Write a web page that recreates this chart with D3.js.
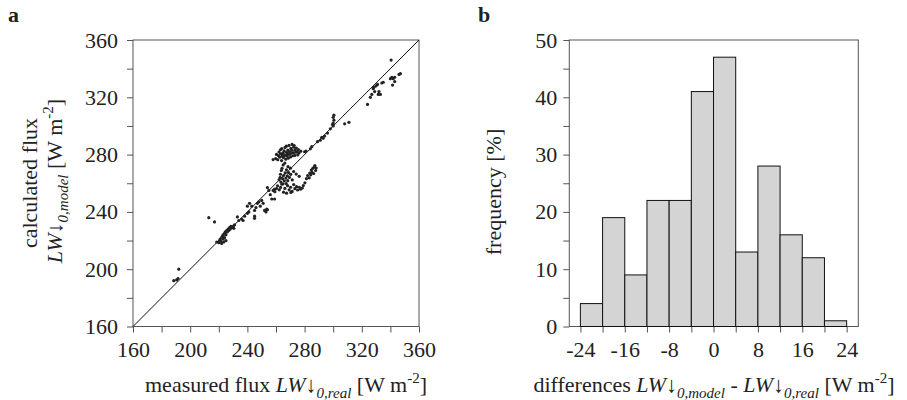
<!DOCTYPE html>
<html><head><meta charset="utf-8">
<script src="https://cdn.jsdelivr.net/npm/d3@7"></script>
<style>body{margin:0;background:#fff}svg{display:block}text{font-family:"Liberation Serif","Times New Roman",serif;fill:#222}</style>
</head><body><svg id="c" width="907" height="400"></svg>
<script>
// Panel a: measured vs calculated flux
const measured = [188.5,190.5,192,191.5,213,217,
218.5,220,220.5,221,221.5,222,222,222.5,223,223,223.5,224,224,224.5,225,225,225.5,226,226.5,227,227.5,228,228.5,229,230,231,230.5,
233,234,236,237,238,240,240,241,241.5,243,245,245,245,246,247,248,249,250,251,252,253,253.5,254,254,255,256,257,259,258,259,
258,259.8,260.3,261.2,261.7,262.1,262.6,263.2,263.1,263.9,264.3,264.0,264.8,265.2,265.1,265.7,266.3,266.1,266.9,267.4,267.2,267.8,268.3,268.1,268.7,269.3,269.1,269.6,270.4,270.2,270.9,271.3,271.1,271.8,272.4,272.2,272.7,273.3,273.1,273.9,274.2,274.8,275.2,275.6,276.1,277.3,
262.2,262.9,263.4,263.1,263.7,264.6,264.2,264.9,265.3,265.0,265.8,266.4,266.2,266.9,267.3,267.1,267.9,268.4,268.2,268.8,269.4,270.3,270.1,271.4,272.3,274.1,276.2,
259.2,260.4,261.1,262.3,263.2,264.1,265.3,266.2,267.4,268.1,269.2,270.4,270.2,271.3,272.4,273.2,274.4,275.1,276.3,277.2,278.4,279.1,280.2,
281.3,282.1,283.2,283.6,284.3,284.7,285.2,285.6,286.3,286.6,287.2,287.7,288.1,
280,281,284,285,289,291,292,293,294,296,298,300,300,300.5,300,300.5,299.5,308,311,
324,326,327,328,328.5,329,330,331,331.5,332,333,334,335,340,340.5,341,341.5,342,343,343,346,347];
const calculated = [192,192.5,200,193.5,236,233,
219,218.5,220,221,219.5,222,218,223,221,224,219,225,222,226,224,220,227,226,228,227,229,228,230,229,230,231,228.5,
236.5,234,235,234,237,239,244,240,246,244,237,235.5,241,243,246,247,244,248,246,241,240,242,241.5,257,255,252,249,249,255,256,
276.5,277.2,280.1,276.4,279.3,281.8,278.2,280.6,283.4,275.8,279.1,284.2,281.3,277.9,280.4,282.6,285.0,279.4,276.8,281.5,285.9,279.0,283.2,280.3,277.6,282.1,286.4,280.2,284.3,278.4,281.1,287.1,283.0,279.2,285.2,281.3,286.3,283.1,279.4,281.7,284.6,282.0,279.8,283.5,281.2,282.4,
262.5,264.1,260.8,266.3,268.9,263.2,270.4,259.6,265.4,272.8,261.7,267.3,274.1,263.6,269.4,259.8,265.2,271.6,261.8,267.4,264.1,266.2,270.5,262.3,268.2,266.4,264.8,
254.1,256.3,258.2,255.4,257.1,259.3,253.8,256.4,253.1,258.3,255.4,253.6,257.2,254.3,259.1,256.2,257.6,255.3,257.2,255.8,256.7,258.4,260.3,
263.2,265.4,263.8,267.1,265.9,269.2,267.6,270.3,266.8,271.2,272.4,268.9,270.6,
282,282.5,284,285.5,289,290,292,291.5,293,295,298,300,302,304,306,307.5,301,301.5,302.5,
315,320,322,326,327,324,328,329,322,324,322,330,330.5,333,346,334,328.5,333,334,331,336,336.5];
const axisTicksA = [160,180,200,220,240,260,280,300,320,340,360];
const axisLabelsA = [160,200,240,280,320,360];

// Panel b: histogram of differences
const binStart = [-24,-20,-16,-12,-8,-4,0,4,8,12,16,20];
const binEnd   = [-20,-16,-12,-8,-4,0,4,8,12,16,20,24];
const frequency = [4,19,9,22,22,41,47,13,28,16,12,1];
const xTicksB = [-24,-20,-16,-12,-8,-4,0,4,8,12,16,20,24];
const xLabelsB = [-24,-16,-8,0,8,16,24];
const yTicksB = [0,5,10,15,20,25,30,35,40,45,50];
const yLabelsB = [0,10,20,30,40,50];

const svg = d3.select("#c");
const FS = 22, SUB = 15, frameCol = "#555";

function rich(sel, parts){
  let off = 0;
  parts.forEach(p=>{
    const [t, kind] = p;
    const ts = sel.append("tspan").text(t);
    let target = 0;
    if (kind.includes("sub")) target = 6;
    if (kind.includes("sup")) target = -9;
    if (kind.includes("sub") || kind.includes("sup")) ts.attr("font-size", SUB);
    if (kind.includes("i")) ts.attr("font-style","italic");
    ts.attr("dy", target - off);
    off = target;
  });
}

function styleAxis(g){
  g.select(".domain").remove();
  g.selectAll(".tick line").attr("stroke", frameCol);
  g.selectAll(".tick text").attr("font-size", FS).attr("fill","#222");
}

// ---------- Panel a ----------
const ax = d3.scaleLinear().domain([160,360]).range([133,419]);
const ay = d3.scaleLinear().domain([160,360]).range([326.5,40]);
const ga = svg.append("g");
ga.append("g").attr("transform","translate(0,326.5)")
  .call(d3.axisBottom(ax).tickValues(axisTicksA).tickSize(6).tickPadding(9)
    .tickFormat(d=>axisLabelsA.includes(d)?d:""))
  .call(styleAxis);
ga.append("g").attr("transform","translate(133,0)")
  .call(d3.axisLeft(ay).tickValues(axisTicksA).tickSize(6).tickPadding(9)
    .tickFormat(d=>axisLabelsA.includes(d)?d:""))
  .call(styleAxis);
ga.append("rect").attr("x",ax(160)).attr("y",ay(360)).attr("width",ax(360)-ax(160)).attr("height",ay(160)-ay(360))
  .attr("fill","none").attr("stroke",frameCol).attr("stroke-width",1);
ga.append("line").attr("x1",ax(160)).attr("y1",ay(160)).attr("x2",ax(360)).attr("y2",ay(360))
  .attr("stroke","#111").attr("stroke-width",1);
ga.selectAll("circle").data(measured.map((m,i)=>[m,calculated[i]])).join("circle")
  .attr("cx",d=>ax(d[0])).attr("cy",d=>ay(d[1])).attr("r",1.6).attr("fill","#222");

ga.append("text").attr("x",8).attr("y",22).attr("font-size",22).attr("font-weight","bold").text("a");
const xa = ga.append("text").attr("x",286).attr("y",392).attr("text-anchor","middle").attr("font-size",FS);
rich(xa, [["measured flux ",""],["LW","i"],["↓",""],["0,real","sub i"],["  [W m",""],["-2","sup"],["]",""]]);
ga.append("text").attr("transform","translate(37,183) rotate(-90)").attr("text-anchor","middle").attr("font-size",FS).text("calculated flux");
const ya = ga.append("text").attr("transform","translate(62,181) rotate(-90)").attr("text-anchor","middle").attr("font-size",FS);
rich(ya, [["LW","i"],["↓",""],["0,model","sub i"],["  [W m",""],["-2","sup"],["]",""]]);

// ---------- Panel b ----------
const bx = d3.scaleLinear().domain([-26,26.1]).range([569.3,858.3]);
const by = d3.scaleLinear().domain([0,50]).range([326.5,40]);
const gb = svg.append("g");
gb.append("g").attr("transform","translate(0,326.5)")
  .call(d3.axisBottom(bx).tickValues(xTicksB).tickSize(6).tickPadding(9)
    .tickFormat(d=>xLabelsB.includes(d)?d:""))
  .call(styleAxis);
gb.append("g").attr("transform","translate(569.3,0)")
  .call(d3.axisLeft(by).tickValues(yTicksB).tickSize(6).tickPadding(6)
    .tickFormat(d=>yLabelsB.includes(d)?d:""))
  .call(styleAxis);
gb.append("rect").attr("x",bx(-26)).attr("y",by(50)).attr("width",bx(26.1)-bx(-26)).attr("height",by(0)-by(50))
  .attr("fill","none").attr("stroke",frameCol).attr("stroke-width",1);
gb.selectAll("rect.bar").data(frequency.map((f,i)=>({s:binStart[i],e:binEnd[i],f}))).join("rect").attr("class","bar")
  .attr("x",d=>bx(d.s)).attr("width",d=>bx(d.e)-bx(d.s))
  .attr("y",d=>by(d.f)).attr("height",d=>by(0)-by(d.f))
  .attr("fill","#d4d4d4").attr("stroke","#111").attr("stroke-width",1);

gb.append("text").attr("x",478).attr("y",22).attr("font-size",22).attr("font-weight","bold").text("b");
const xb = gb.append("text").attr("x",714).attr("y",392).attr("text-anchor","middle").attr("font-size",FS);
rich(xb, [["differences ",""],["LW","i"],["↓",""],["0,model","sub i"],["  -  ",""],["LW","i"],["↓",""],["0,real","sub i"],[" [W m",""],["-2","sup"],["]",""]]);
gb.append("text").attr("transform","translate(501,192) rotate(-90)").attr("text-anchor","middle").attr("font-size",FS).text("frequency [%]");
</script></body></html>
